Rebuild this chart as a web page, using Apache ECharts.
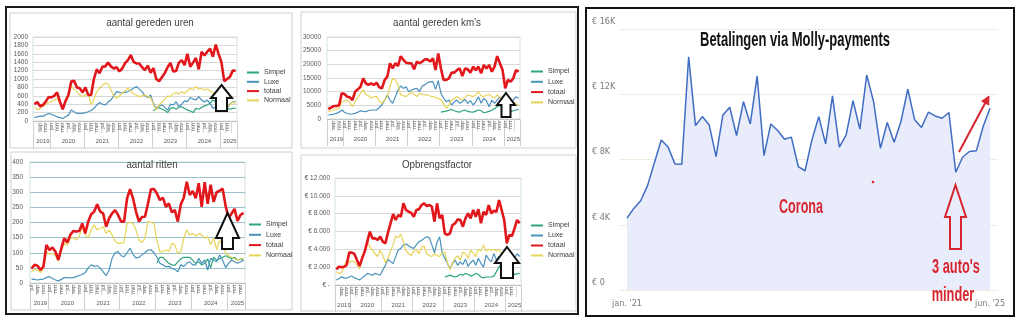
<!DOCTYPE html>
<html><head><meta charset="utf-8">
<script src="https://cdn.jsdelivr.net/npm/echarts@6/dist/echarts.min.js"></script>
<style>html,body{margin:0;padding:0;background:#fff}#c{width:1024px;height:322px}</style>
</head><body><div id="c"></div>
<script>
// ---------- categories ----------
const leftMonths = [
 'jul','aug','sep','okt','nov','dec',
 'jan','feb','mrt','apr','mei','jun','jul','aug','sep','okt','nov','dec',
 'jan','feb','mrt','apr','mei','jun','jul','aug','sep','okt','nov','dec',
 'jan','feb','mrt','apr','mei','jun','jul','aug','sep','okt','nov','dec',
 'jan','feb','mrt','apr','mei','jun','jul','aug','sep','okt','nov','dec',
 'jan','feb','mrt','apr','mei','jun','jul','aug','sep','okt','nov','dec',
 'jan','feb','mrt','apr','mei','jun'];
const yearNames = ['2019','2020','2021','2022','2023','2024','2025'];
const yearStarts = [0,6,18,30,42,54,66];
const yearLabelIdx = [3,12,24,36,48,60,69];
const simpelStart = 42;

const rightMonths = [
 "jan. '21","feb. '21","mrt. '21","apr. '21","mei '21","jun. '21","jul. '21","aug. '21","sep. '21","okt. '21","nov. '21","dec. '21",
 "jan. '22","feb. '22","mrt. '22","apr. '22","mei '22","jun. '22","jul. '22","aug. '22","sep. '22","okt. '22","nov. '22","dec. '22",
 "jan. '23","feb. '23","mrt. '23","apr. '23","mei '23","jun. '23","jul. '23","aug. '23","sep. '23","okt. '23","nov. '23","dec. '23",
 "jan. '24","feb. '24","mrt. '24","apr. '24","mei '24","jun. '24","jul. '24","aug. '24","sep. '24","okt. '24","nov. '24","dec. '24",
 "jan. '25","feb. '25","mrt. '25","apr. '25","mei '25","jun. '25"];

// ---------- aantal gereden uren ----------
const urenTotaal = [400,450,350,380,460,570,560,600,680,460,280,480,620,940,960,800,780,680,800,620,620,1000,1230,1140,1290,1300,1390,1300,1250,1280,1180,1250,1380,1450,1570,1410,1370,1370,1280,1210,1320,1150,1260,1000,950,1040,1140,1280,1380,1180,1190,1390,1450,1330,1600,1290,1390,1500,1230,1650,1560,1650,1720,1530,1820,1600,1400,950,1000,1050,1200,1200];
const urenNormaal = [330,270,300,350,400,430,460,500,540,420,320,450,580,820,760,700,620,580,620,660,380,520,700,780,850,900,880,740,600,540,600,660,720,780,700,650,620,580,600,620,580,560,400,270,380,450,520,600,580,650,680,640,700,660,720,780,740,820,760,780,740,760,720,680,620,540,380,280,340,380,450,420];
const urenLuxe = [80,100,120,110,150,180,160,130,100,80,60,100,140,260,220,180,180,180,200,220,250,300,380,440,400,380,450,500,600,700,680,660,680,700,740,780,820,760,700,600,560,620,420,300,360,380,330,260,400,380,460,340,400,480,460,560,520,500,580,500,450,500,420,300,340,380,500,420,300,400,450,460];
const urenSimpel = [240,300,320,280,260,200,300,320,280,330,340,300,260,240,200,300,280,320,360,380,420,500,460,380,320,280,300,280,300,300];

// ---------- aantal gereden km's ----------
const kmTotaal = [3660,4150,4750,4750,5000,9400,9150,8170,7930,6950,10000,10850,11800,14900,13050,12440,13050,12440,13300,11600,11200,14270,15500,20400,18500,20400,19400,23000,21600,20600,20400,20400,18170,21000,20400,21000,21800,21800,21000,22200,17900,24000,18500,14300,14300,14900,16950,16950,17900,18500,15700,18500,18170,16950,19150,17900,19150,16700,19750,18500,19750,17300,19150,23000,20400,17900,11200,14300,13650,14900,17900,17300];
const kmNormaal = [2700,3000,3300,3600,3900,6300,6600,6900,6000,4500,6300,7800,9400,10800,9000,8500,7600,8200,8200,6500,5700,7000,8200,11800,14900,14300,12400,8800,8500,8200,9000,10000,9000,8200,9400,9000,8800,8800,8400,8200,7800,7600,7000,5700,3900,5100,6900,7500,8200,7500,6900,7800,8800,8500,8200,8800,10000,8500,8200,8800,9000,8200,7600,8800,8000,6300,4500,3800,5000,6300,5500,5100];
const kmLuxe = [1460,1600,1800,2070,2500,3300,2500,2000,1830,1900,2070,2500,3050,2800,2700,3100,3300,3300,3300,4200,5120,6950,8780,6950,5730,8170,10600,12070,11200,11800,10000,10600,11000,11200,10000,12070,12500,13300,13600,13660,10850,14000,9400,7560,6340,6950,5120,6300,6950,5730,6300,7200,5730,6700,5120,6300,8170,5730,7560,6700,4500,6950,5730,6950,8170,6300,3300,4500,6300,6950,8170,7560];
const kmSimpel = [2500,2700,2900,3200,3500,3000,2700,2500,3000,3300,2800,2600,2500,2900,3300,3000,2300,2500,2800,3200,3800,4500,5000,4000,3000,2500,2800,3000,3300,3500];

// ---------- aantal ritten ----------
const rittenTotaal = [48,60,57,43,54,126,109,117,104,76,115,148,134,159,172,170,172,197,164,203,227,236,260,236,230,186,214,230,241,225,203,203,280,310,280,236,203,218,219,262,310,311,296,274,282,252,263,234,241,203,260,282,335,291,304,280,330,252,333,262,325,268,300,305,312,255,215,230,245,205,225,232];
const rittenNormaal = [37,45,43,35,48,104,95,98,90,73,105,131,125,148,150,142,155,186,159,150,175,192,175,180,186,164,175,159,139,131,131,134,197,200,197,175,142,134,148,203,200,197,142,104,104,109,104,131,126,98,104,148,175,159,164,153,164,159,148,153,126,150,110,140,130,100,90,85,80,75,80,82];
const rittenLuxe = [13,12,10,12,13,18,21,15,10,7,12,18,18,17,18,21,25,28,35,50,60,55,57,50,37,24,43,82,100,104,90,87,100,115,95,82,85,93,100,109,110,100,85,65,60,54,55,48,45,37,60,55,65,70,60,60,82,65,76,43,82,75,70,93,75,51,65,76,70,65,70,75];
const rittenSimpel = [65,85,85,75,65,60,58,70,80,85,85,85,75,65,70,60,65,80,50,85,75,80,85,90,85,80,85,75,80,75];

// ---------- Opbrengstfactor ----------
const opbTotaal = [1760,2060,1980,2060,2240,3630,3630,3480,2800,2130,2990,3740,4860,5980,5230,5230,5050,5420,4860,4670,5870,6920,7960,7290,7850,7660,9160,8410,8220,8110,7660,8410,8490,8970,9160,8860,8970,8780,7100,9160,7480,7850,5790,5610,5790,6730,6920,7360,7300,6540,7480,8040,7480,8410,7660,8490,6920,8220,7850,8970,8040,8340,8220,9530,8410,7290,4670,5610,5500,6350,7290,6920];
const opbNormaal = [1500,1300,1400,2000,2800,2500,2700,2600,2300,1800,3000,4000,4800,4300,3900,3500,3200,3900,3300,2500,3000,3800,4500,5500,5300,5700,4800,3800,3500,3300,3800,4000,3500,4200,4400,3500,3300,3200,3500,3300,3200,3600,3700,2500,1700,2500,3000,3300,2800,3700,3500,3000,3900,3600,3200,4000,3800,4500,3800,4000,3900,4000,3800,4000,3500,2500,1800,2200,2800,2500,2500,2500];
const opbLuxe = [560,700,930,800,750,900,1010,800,700,560,800,1000,1310,1200,1100,1310,1200,1120,1680,2200,2880,2620,2400,3180,3920,4110,4500,4600,4400,4220,4100,4500,4860,5000,5230,5420,5300,4500,3600,4800,5400,3600,3000,2400,1870,2400,2800,2200,2600,2300,2900,2100,2500,2800,2200,3000,2430,2000,3360,2900,2600,3550,2800,3200,2400,1700,2000,2300,2800,3000,3500,3200];
const opbSimpel = [900,1000,1100,1000,900,1000,1200,1100,1300,1200,1000,1100,1300,1200,900,800,900,900,900,1000,1500,2000,2500,1800,1400,1200,1100,1200,1250,1300];

// ---------- Betalingen via Molly-payments ----------
const mollyValues = [4410,5000,5470,6400,7800,9200,8760,7730,7710,14300,10080,10630,10120,8180,10730,11200,9470,11550,10180,13120,8240,10180,9780,9240,9370,7570,7310,9200,10630,8960,11900,8760,9510,11610,9860,13180,11550,8690,10270,9060,10330,12310,10430,9960,10900,10670,10530,10880,7220,8140,8490,8530,10020,11140];

// ---------- styling ----------
const seriesNames = ['Simpel','Luxe','totaal','Normaal'];
const seriesColors = {Simpel:'#2ea57d', Luxe:'#4a92bb', totaal:'#e2171b', Normaal:'#e8d35a'};
const seriesWidths = {Simpel:1.2, Luxe:1.2, totaal:2.6, Normaal:1.2};
const FONT = 'Liberation Sans, Arial, sans-serif';

const pad = arr => Array(simpelStart).fill(null).concat(arr);

const charts = [
  {grid:{left:33, top:37, width:204, height:84}, max:2000, interval:200, fmt:v=>String(v), split:'#d9d9d9', margin:5,
   data:{Simpel:pad(urenSimpel), Luxe:urenLuxe, totaal:urenTotaal, Normaal:urenNormaal}, legend:{left:246, top:69, gap:2.3}},
  {grid:{left:327, top:37, width:193, height:82}, max:30000, interval:5000, fmt:v=>String(v), split:'#d9d9d9', margin:6,
   data:{Simpel:pad(kmSimpel), Luxe:kmLuxe, totaal:kmTotaal, Normaal:kmNormaal}, legend:{left:530, top:68, gap:3.3}},
  {grid:{left:30, top:162, width:215, height:121}, max:400, interval:50, fmt:v=>String(v), split:'#9cc2ce', margin:7,
   data:{Simpel:pad(rittenSimpel), Luxe:rittenLuxe, totaal:rittenTotaal, Normaal:rittenNormaal}, legend:{left:248, top:221, gap:3.3}},
  {grid:{left:335, top:178, width:186, height:107}, max:12000, interval:2000,
   fmt:v=> v===0 ? '€ -' : '€ ' + (v/1000) + '.000', split:'#d9d9d9', margin:5,
   data:{Simpel:pad(opbSimpel), Luxe:opbLuxe, totaal:opbTotaal, Normaal:opbNormaal}, legend:{left:530, top:222, gap:3}}
];

const grid = [], xAxis = [], yAxis = [], series = [], legend = [];
charts.forEach((c, k) => {
  grid.push(Object.assign({show:true, borderColor:'#d3e4de', borderWidth:1, backgroundColor:'transparent'}, c.grid));
  xAxis.push({type:'category', gridIndex:k, data:leftMonths, boundaryGap:true,
    axisLine:{show:true, lineStyle:{color:'#bfbfbf'}},
    axisTick:{show:true, interval:1, length:12, lineStyle:{color:'#d6d6d6'}},
    axisLabel:{interval:1, rotate:90, fontSize:5.5, color:'#666', margin:2, fontFamily:FONT}});
  xAxis.push({type:'category', gridIndex:k, data:leftMonths, boundaryGap:true, position:'bottom',
    axisLine:{show:false},
    axisTick:{show:true, interval:(i)=>yearStarts.includes(i), length:27, lineStyle:{color:'#cfcfcf'}},
    axisLabel:{interval:(i)=>yearLabelIdx.includes(i), fontSize:6, color:'#595959', margin:17, fontFamily:FONT,
      formatter:(v, i)=>{ let y=''; yearStarts.forEach((s,j)=>{ if(i>=s) y=yearNames[j]; }); return y; }}});
  yAxis.push({type:'value', gridIndex:k, min:0, max:c.max, interval:c.interval,
    axisLine:{show:false}, axisTick:{show:false},
    splitLine:{lineStyle:{color:c.split, width:1}},
    axisLabel:{fontSize:6.5, color:'#595959', margin:c.margin, formatter:c.fmt, fontFamily:FONT}});
  ['Simpel','Luxe','Normaal','totaal'].forEach(n => {
    series.push({type:'line', name:n, xAxisIndex:2*k, yAxisIndex:k, data:c.data[n],
      symbol:'none', smooth:false, connectNulls:false, z: n==='totaal'?4:3,
      lineStyle:{color:seriesColors[n], width:seriesWidths[n]}, itemStyle:{color:seriesColors[n]}});
  });
  legend.push({orient:'vertical', left:c.legend.left, top:c.legend.top, data:seriesNames, padding:0,
    itemWidth:12, itemHeight:8, itemGap:c.legend.gap, selectedMode:false,
    itemStyle:{opacity:0},
    textStyle:{fontSize:7, color:'#404040', fontFamily:FONT}});
});

// right chart: grid for gridlines/labels (wider) + grid for the series
grid.push({left:620, top:29, width:378, height:261, show:false});
grid.push({left:627, top:29, width:363, height:261, show:false});
xAxis.push({type:'value', gridIndex:4, show:false, min:0, max:1});
xAxis.push({type:'category', gridIndex:5, data:rightMonths, boundaryGap:false,
  axisLine:{show:false}, axisTick:{show:false},
  axisLabel:{interval:(i)=> i===0 || i===rightMonths.length-1, fontSize:9, color:'#7a7a7a', margin:9,
    fontFamily:'Liberation Sans Narrow, DejaVu Sans Condensed, sans-serif'}});
yAxis.push({type:'value', gridIndex:4, min:0, max:16000, interval:4000,
  axisLine:{show:false}, axisTick:{show:false},
  splitLine:{lineStyle:{color:'#f0ece0', width:1}},
  axisLabel:{align:'left', margin:28, verticalAlign:'bottom', padding:[0,0,3,0], fontSize:9, color:'#7a7a7a',
    fontFamily:'Liberation Sans Narrow, DejaVu Sans Condensed, sans-serif',
    formatter:v=> '€ ' + (v===0 ? '0' : (v/1000)+'K')}});
yAxis.push({type:'value', gridIndex:5, min:0, max:16000, interval:4000, show:false});
series.push({type:'line', name:'Betalingen', xAxisIndex:9, yAxisIndex:5, data:mollyValues,
  symbol:'none', lineStyle:{color:'#3f6cc2', width:1.5}, itemStyle:{color:'#3f6cc2'},
  areaStyle:{color:'#e9edfb', opacity:1}, z:2});

// ---------- annotations ----------
function txt(x, y, text, size, color, weight, sx){
  return {type:'text', x:x, y:y, scaleX:sx, z:120,
    style:{text:text, fontSize:size, fontWeight:weight, fontFamily:FONT, fill:color,
      align:'center', verticalAlign:'middle', textAlign:'center', textVerticalAlign:'middle'}};
}
function upArrow(tipX, tipY, halfHead, headBaseY, halfShaft, bottomY, stroke, fill){
  return {type:'polygon', z:110, shape:{points:[
    [tipX, tipY],[tipX+halfHead, headBaseY],[tipX+halfShaft, headBaseY],[tipX+halfShaft, bottomY],
    [tipX-halfShaft, bottomY],[tipX-halfShaft, headBaseY],[tipX-halfHead, headBaseY]]},
    style:{stroke:stroke, fill:fill, lineWidth:2, lineJoin:'miter'}};
}
const graphic = [
  {type:'rect', z:1, shape:{x:10, y:13, width:282, height:135}, style:{fill:'none', stroke:'#d0d0d0', lineWidth:1}},
  {type:'rect', z:1, shape:{x:301, y:12, width:275, height:136}, style:{fill:'none', stroke:'#d0d0d0', lineWidth:1}},
  {type:'rect', z:1, shape:{x:11, y:152, width:281, height:158}, style:{fill:'none', stroke:'#d0d0d0', lineWidth:1}},
  {type:'rect', z:1, shape:{x:301, y:155, width:275, height:156}, style:{fill:'none', stroke:'#d0d0d0', lineWidth:1}},
  {type:'rect', z:130, shape:{x:6, y:7, width:572, height:307}, style:{fill:'none', stroke:'#1c1c1c', lineWidth:2}},
  {type:'rect', z:130, shape:{x:586, y:8, width:428, height:308}, style:{fill:'none', stroke:'#111', lineWidth:2}},
  txt(150, 23, 'aantal gereden uren', 11, '#404040', 'normal', 0.89),
  txt(437, 23, "aantal gereden km's", 11, '#404040', 'normal', 0.89),
  txt(152, 165, 'aantal ritten', 11, '#404040', 'normal', 0.89),
  txt(437, 165, 'Opbrengstfactor', 11, '#404040', 'normal', 0.89),
  upArrow(221.5, 85, 10.5, 98, 5.5, 111, '#111', '#fff'),
  upArrow(506, 93, 9, 105, 4.5, 117, '#111', '#fff'),
  upArrow(227.5, 213, 11.5, 238, 5.5, 249, '#111', '#fff'),
  upArrow(507, 247, 12, 263, 6, 278, '#111', '#fff'),
  txt(795, 40, 'Betalingen via Molly-payments', 20, '#111', 'bold', 0.65),
  txt(801, 207, 'Corona', 20, '#d7262f', 'bold', 0.63),
  txt(956, 267, "3 auto's", 20, '#d7262f', 'bold', 0.64),
  txt(953, 295, 'minder', 20, '#d7262f', 'bold', 0.64),
  upArrow(955.5, 185, 10.5, 217, 5.5, 249, '#d7262f', 'none'),
  {type:'line', z:115, shape:{x1:959, y1:152, x2:986.5, y2:100.5}, style:{stroke:'#d7262f', lineWidth:2}},
  {type:'polygon', z:115, shape:{points:[[989,96],[988.7,105],[981.7,101.2]]}, style:{fill:'#d7262f', stroke:'#d7262f', lineWidth:1}},
  {type:'circle', z:115, shape:{cx:873, cy:182, r:1.3}, style:{fill:'#d7262f'}}
];

try {
  const chart = echarts.init(document.getElementById('c'), null, {renderer:'canvas'});
  chart.setOption({
    animation:false, backgroundColor:'#fff',
    grid:grid, xAxis:xAxis, yAxis:yAxis, series:series, legend:legend, graphic:graphic
  });
} catch (e) {
  document.body.innerHTML = '<pre style="font-size:10px">' + (e.stack || e) + '</pre>';
}
</script></body></html>
